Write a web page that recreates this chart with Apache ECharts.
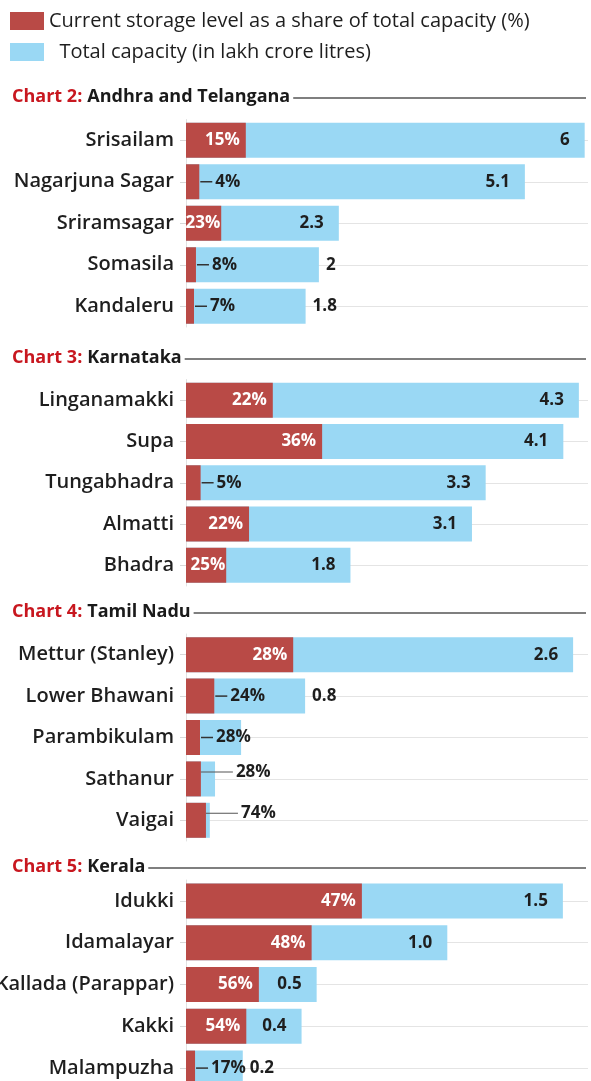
<!DOCTYPE html>
<html><head><meta charset="utf-8">
<script src="https://cdn.jsdelivr.net/npm/echarts@6/dist/echarts.min.js"></script>
<style>html,body{margin:0;padding:0;background:#fff}#c{width:591px;height:1081px}</style>
</head><body><div id="c"></div>
<script>
// ---- data ----
const legendNames = ['Current storage level as a share of total capacity (%)', 'Total capacity (in lakh crore litres)'];

const c2Title = ['Chart 2:', 'Andhra and Telangana'];
const c2Dams = ['Srisailam', 'Nagarjuna Sagar', 'Sriramsagar', 'Somasila', 'Kandaleru'];
const c2Capacity = [6, 5.1, 2.3, 2.0, 1.8];
const c2CapLabel = ['6', '5.1', '2.3', '2', '1.8'];
const c2Share = [15, 4, 23, 8, 7];
const c2Storage = [0.9, 0.2, 0.53, 0.15, 0.12];

const c3Title = ['Chart 3:', 'Karnataka'];
const c3Dams = ['Linganamakki', 'Supa', 'Tungabhadra', 'Almatti', 'Bhadra'];
const c3Capacity = [4.3, 4.13, 3.28, 3.13, 1.8];
const c3CapLabel = ['4.3', '4.1', '3.3', '3.1', '1.8'];
const c3Share = [22, 36, 5, 22, 25];
const c3Storage = [0.95, 1.49, 0.16, 0.69, 0.44];

const c4Title = ['Chart 4:', 'Tamil Nadu'];
const c4Dams = ['Mettur (Stanley)', 'Lower Bhawani', 'Parambikulam', 'Sathanur', 'Vaigai'];
const c4Capacity = [2.6, 0.8, 0.37, 0.195, 0.16];
const c4CapLabel = ['2.6', '0.8', '', '', ''];
const c4Share = [28, 24, 28, 28, 74];
const c4Storage = [0.72, 0.19, 0.094, 0.1, 0.134];

const c5Title = ['Chart 5:', 'Kerala'];
const c5Dams = ['Idukki', 'Idamalayar', 'Kallada (Parappar)', 'Kakki', 'Malampuzha'];
const c5Capacity = [1.5, 1.04, 0.52, 0.46, 0.226];
const c5CapLabel = ['1.5', '1.0', '0.5', '0.4', '0.2'];
const c5Share = [47, 48, 56, 54, 17];
const c5Storage = [0.7, 0.5, 0.29, 0.24, 0.036];

// ---- layout / style ----
const FONT = 'Open Sans';
const RED = '#b94a46';
const BLUE = '#9ad8f4';
const DARK = '#1e1e1e';
const panels = [
  {title: c2Title, dams: c2Dams, cap: c2Capacity, capLabel: c2CapLabel, share: c2Share, storage: c2Storage, titleY: 97, top: 119.5, height: 207.5, max: 6.05},
  {title: c3Title, dams: c3Dams, cap: c3Capacity, capLabel: c3CapLabel, share: c3Share, storage: c3Storage, titleY: 358, top: 379.5, height: 206.5, max: 4.4},
  {title: c4Title, dams: c4Dams, cap: c4Capacity, capLabel: c4CapLabel, share: c4Share, storage: c4Storage, titleY: 612, top: 634, height: 207, max: 2.7},
  {title: c5Title, dams: c5Dams, cap: c5Capacity, capLabel: c5CapLabel, share: c5Share, storage: c5Storage, titleY: 867, top: 880, height: 209, max: 1.6}
];
const GRID_LEFT = 186, GRID_RIGHT = 3;

const labelRich = {
  ln: {width: 12, height: 1.5, backgroundColor: '#333'},
  lt: {width: 32, height: 1, backgroundColor: '#555'},
  t: {color: DARK, fontFamily: FONT, fontWeight: 'bold', fontSize: 17, padding: [0, 0, 0, 3]}
};

function redItem(p, i) {
  const st = p.storage[i], cap = p.cap[i];
  const frac = st / p.max;
  const txt = p.share[i] + '%';
  let label;
  if (frac > 0.08) {
    label = {show: true, position: 'insideRight', distance: frac < 0.12 ? 1 : 6, color: '#fff',
      fontFamily: FONT, fontWeight: 'bold', fontSize: 17, formatter: txt};
  } else if ((cap - st) / p.max < 0.06) {
    label = {show: true, position: 'right', distance: 0, offset: [0, -7],
      formatter: '{lt| }{t|' + txt + '}', rich: labelRich};
  } else {
    label = {show: true, position: 'right', distance: 1,
      formatter: '{ln| }{t|' + txt + '}', rich: labelRich};
  }
  return {value: st, label: label};
}

function blueItem(p, i) {
  const cap = p.cap[i];
  const redOutside = p.storage[i] / p.max <= 0.08;
  const lbl = p.capLabel[i];
  let label;
  if (!lbl) label = {show: false};
  else if (redOutside && cap / p.max < 0.5) label = {show: true, position: 'right', distance: 7};
  else label = {show: true, position: 'insideRight', distance: 15};
  Object.assign(label, {color: DARK, fontFamily: FONT, fontWeight: 'bold', fontSize: 17, formatter: lbl});
  return {value: cap, label: label};
}

const grid = [], xAxis = [], yAxis = [], series = [], title = [], graphic = [];
panels.forEach((p, k) => {
  grid.push({left: GRID_LEFT, right: GRID_RIGHT, top: p.top, height: p.height, outerBoundsMode: 'none', containLabel: false});
  xAxis.push({type: 'value', gridIndex: k, min: 0, max: p.max, show: false});
  yAxis.push({
    type: 'category', gridIndex: k, inverse: true, data: p.dams,
    axisLine: {show: true, lineStyle: {color: '#e2e2e2', width: 1}},
    axisTick: {show: true, alignWithLabel: true, length: 6, lineStyle: {color: '#d8d8d8'}},
    axisLabel: {color: DARK, fontFamily: FONT, fontSize: 20, fontWeight: 600, margin: 12}
  });
  series.push({
    type: 'line', xAxisIndex: k, yAxisIndex: k, data: [], silent: true, z: 0,
    markLine: {silent: true, z: 0, symbol: 'none', animation: false, label: {show: false},
      lineStyle: {color: '#e4e4e4', width: 1, type: 'solid'},
      data: p.dams.map(d => ({yAxis: d}))}
  });
  series.push({
    name: legendNames[1], type: 'bar', xAxisIndex: k, yAxisIndex: k, barWidth: 35, barGap: '-100%',
    itemStyle: {color: BLUE}, z: 2, animation: false,
    data: p.dams.map((d, i) => blueItem(p, i))
  });
  series.push({
    name: legendNames[0], type: 'bar', xAxisIndex: k, yAxisIndex: k, barWidth: 35, barGap: '-100%',
    itemStyle: {color: RED}, z: 3, animation: false,
    data: p.dams.map((d, i) => redItem(p, i))
  });
  title.push({
    text: '{r|' + p.title[0] + '} {b|' + p.title[1] + '}',
    left: 10, top: p.titleY - 12, padding: [0, 3, 0, 2], backgroundColor: '#fff', z: 10,
    textStyle: {rich: {
      r: {color: '#c8171f', fontFamily: FONT, fontWeight: 'bold', fontSize: 18, lineHeight: 24},
      b: {color: '#1a1a1a', fontFamily: FONT, fontWeight: 'bold', fontSize: 18, lineHeight: 24}
    }}
  });
  graphic.push({type: 'line', z: 1, silent: true,
    shape: {x1: 12, y1: p.titleY + 1, x2: 586, y2: p.titleY + 1},
    style: {stroke: '#555', lineWidth: 1.5}});
});

const chart = echarts.init(document.getElementById('c'), null, {renderer: 'canvas'});
chart.setOption({
  backgroundColor: '#fff',
  animation: false,
  title: title,
  graphic: graphic,
  legend: {
    data: [legendNames[0], legendNames[1]], orient: 'vertical', left: 10, top: 11, padding: 0,
    itemWidth: 34, itemHeight: 18, itemGap: 11, icon: 'rect', selectedMode: false,
    formatter: n => (n === legendNames[1] ? '\u00a0\u00a0' : '') + n,
    textStyle: {color: DARK, fontFamily: FONT, fontSize: 20}
  },
  grid: grid, xAxis: xAxis, yAxis: yAxis, series: series
});
</script></body></html>
